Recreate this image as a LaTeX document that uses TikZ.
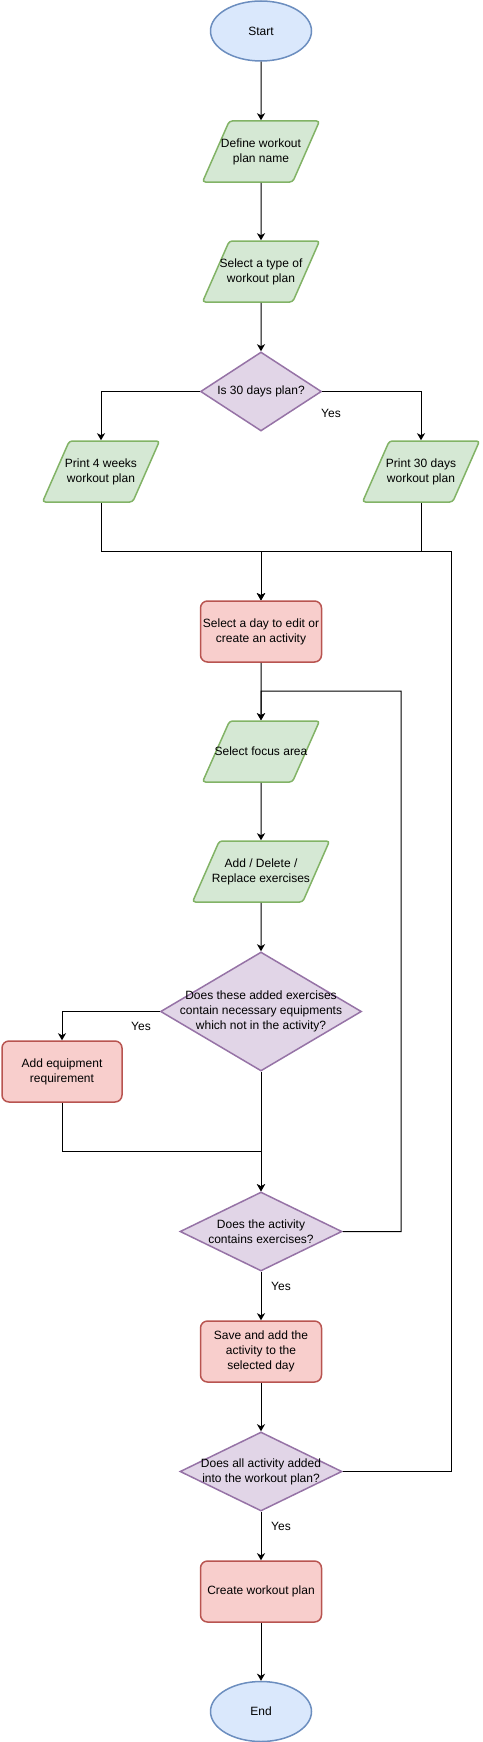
\documentclass[tikz,border=0pt]{standalone}
\usepackage{fontspec}
\setmainfont{Liberation Sans}
\usetikzlibrary{shapes.geometric, arrows.meta, positioning}
\definecolor{termfill}{HTML}{DAE8FC}
\definecolor{termline}{HTML}{6C8EBF}
\definecolor{iofill}{HTML}{D5E8D4}
\definecolor{ioline}{HTML}{82B366}
\definecolor{procfill}{HTML}{F8CECC}
\definecolor{procline}{HTML}{B85450}
\definecolor{decfill}{HTML}{E1D5E7}
\definecolor{decline}{HTML}{9673A6}

\begin{document}
\begin{tikzpicture}[
        x=1pt, y=-1pt,
        every node/.style={font=\fontsize{12}{15}\selectfont, align=center},
        term/.style={ellipse, draw=termline, fill=termfill, line width=1.5pt, minimum width=101pt, minimum height=60pt, inner sep=0pt},
        io/.style={trapezium, trapezium left angle=66, trapezium right angle=114, trapezium stretches body=true, draw=ioline, fill=iofill, line width=1.5pt, rounded corners=3pt, minimum width=117pt, minimum height=61pt, inner xsep=-15pt, inner ysep=17pt},
        proc/.style={rectangle, rounded corners=7pt, draw=procline, fill=procfill, line width=1.5pt, minimum width=121pt, minimum height=61pt, inner sep=0pt},
        dec/.style={diamond, aspect=2, draw=decline, fill=decfill, line width=1.5pt, inner xsep=-20pt, inner ysep=-6pt},
        flow/.style={-{Stealth[length=7pt, width=8pt, inset=2pt]}, line width=1pt},
        lbl/.style={inner sep=0pt}
      ]
      \useasboundingbox (0,0) rectangle (482,1742);
      % main column
      \node[term] (start) at (261,31) {Start};
      \node[io] (name) at (261,151.5) {Define workout\\plan name};
      \node[io] (type) at (261,271.5) {Select a type of\\workout plan};
      \node[dec, minimum width=121pt, minimum height=79pt] (q30) at (261,391.5) {Is 30 days plan?};
      \node[io] (p4) at (101,471.5) {Print 4 weeks\\workout plan};
      \node[io] (p30) at (421,471.5) {Print 30 days\\workout plan};
      \node[proc] (day) at (261,631.5) {Select a day to edit or\\create an activity};
      \node[io, inner ysep=26pt] (focus) at (261,751.5) {Select focus area};
      \node[io, minimum width=137pt] (edit) at (261,871.5) {Add / Delete /\\Replace exercises};
      \node[dec, minimum width=201pt, minimum height=119pt] (equip) at (261,1011.5) {Does these added exercises\\contain necessary equipments\\which not in the activity?};
      \node[proc, minimum width=120pt] (addeq) at (62,1071.5) {Add equipment\\requirement};
      \node[dec, minimum width=162pt, minimum height=79pt] (hasex) at (261,1231.5) {Does the activity\\contains exercises?};
      \node[proc] (save) at (261,1351.5) {Save and add the\\activity to the\\selected day};
      \node[dec, minimum width=162pt, minimum height=79pt] (alldone) at (261,1471.5) {Does all activity added\\into the workout plan?};
      \node[proc] (create) at (261,1591.5) {Create workout plan};
      \node[term] (end) at (261,1711.5) {End};
      % helper points
      \coordinate (merge) at (261,551);
      \coordinate (back) at (451,551);
      \coordinate (loop) at (261,691);
      \coordinate (loopr) at (401,691);
      \coordinate (join) at (261,1151);
      % connectors
      \draw[flow] (start.south) -- (name.north);
      \draw[flow] (name.south) -- (type.north);
      \draw[flow] (type.south) -- (q30.north);
      \draw[flow] (q30.west) -| (p4.north);
      \draw[flow] (q30.east) -| (p30.north);
      \node[lbl] (yes30) at (331,413) {Yes};
      \draw[flow] (p4.south) |- (merge) -- (day.north);
      \draw[flow] (p30.south) |- (merge) -- (day.north);
      \draw[flow] (day.south) -- (focus.north);
      \draw[flow] (focus.south) -- (edit.north);
      \draw[flow] (edit.south) -- (equip.north);
      \draw[flow] (equip.west) -| (addeq.north);
      \node[lbl] (yeseq) at (141,1026) {Yes};
      \draw[flow] (addeq.south) |- (join) -- (hasex.north);
      \draw[flow] (equip.south) -- (hasex.north);
      \draw[flow] (hasex.east) -| (loopr) -- (loop) -- (focus.north);
      \draw[flow] (hasex.south) -- (save.north);
      \node[lbl] (yesex) at (281,1286) {Yes};
      \draw[flow] (save.south) -- (alldone.north);
      \draw[flow] (alldone.east) -| (back) -- (merge) -- (day.north);
      \draw[flow] (alldone.south) -- (create.north);
      \node[lbl] (yesall) at (281,1526) {Yes};
      \draw[flow] (create.south) -- (end.north);
\end{tikzpicture}
\end{document}
